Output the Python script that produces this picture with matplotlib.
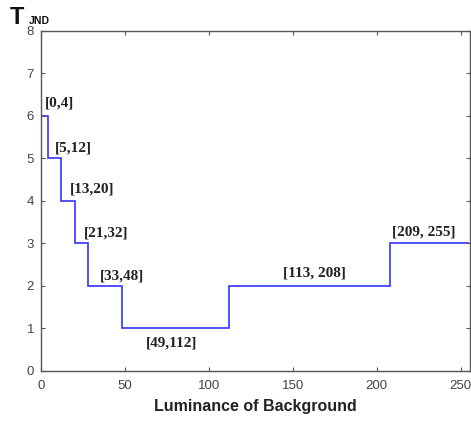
import matplotlib
matplotlib.use("Agg")
import matplotlib.pyplot as plt

# Step edges (luminance) and JND values per interval
edges = [0, 4, 12, 20, 28, 48, 112, 208, 255]
tjnd = [6, 5, 4, 3, 2, 1, 2, 3]
labels = ["[0,4]", "[5,12]", "[13,20]", "[21,32]", "[33,48]", "[49,112]", "[113, 208]", "[209, 255]"]
label_x = [2.4, 8.3, 17.3, 25.6, 35, 62.5, 144, 209]
label_y = [6.3, 5.24, 4.27, 3.24, 2.23, 0.65, 2.3, 3.26]
xticks = [0, 50, 100, 150, 200, 250]
yticks = [0, 1, 2, 3, 4, 5, 6, 7, 8]

fig = plt.figure(figsize=(4.71, 4.23), dpi=100)
ax = fig.add_axes([0.087, 0.124, 0.911, 0.803])

ax.stairs(tjnd, edges, color="#3333ff", linewidth=1.2, baseline=None)

for t, x, y in zip(labels, label_x, label_y):
    ax.text(x, y, t, family="Liberation Serif", fontweight="bold", fontsize=11,
            color="#222222", ha="left", va="center")

ax.set_xlim(0, 255.5)
ax.set_ylim(0, 8)
ax.set_xticks(xticks)
ax.set_yticks(yticks)
ax.tick_params(direction="in", top=True, right=True, length=3, width=0.8,
               color="#555555", labelcolor="#444444", labelsize=9.5)
ax.tick_params(axis="x", pad=7)
ax.tick_params(axis="y", pad=5)
for lbl in ax.get_xticklabels() + ax.get_yticklabels():
    lbl.set_family("Liberation Sans")
for s in ax.spines.values():
    s.set_color("#555555")
    s.set_linewidth(1.0)

ax.set_xlabel("Luminance of Background", family="Liberation Sans", fontweight="bold",
              fontsize=11.5, color="#222222", labelpad=5)

fig.text(0.021, 0.958, "T", family="Liberation Sans", fontweight="bold", fontsize=17,
         color="#111111", va="center", ha="left")
fig.text(0.062, 0.951, "JND", family="Liberation Sans", fontweight="bold", fontsize=7.5,
         color="#111111", va="center", ha="left")

fig.savefig("out.png", dpi=100)
